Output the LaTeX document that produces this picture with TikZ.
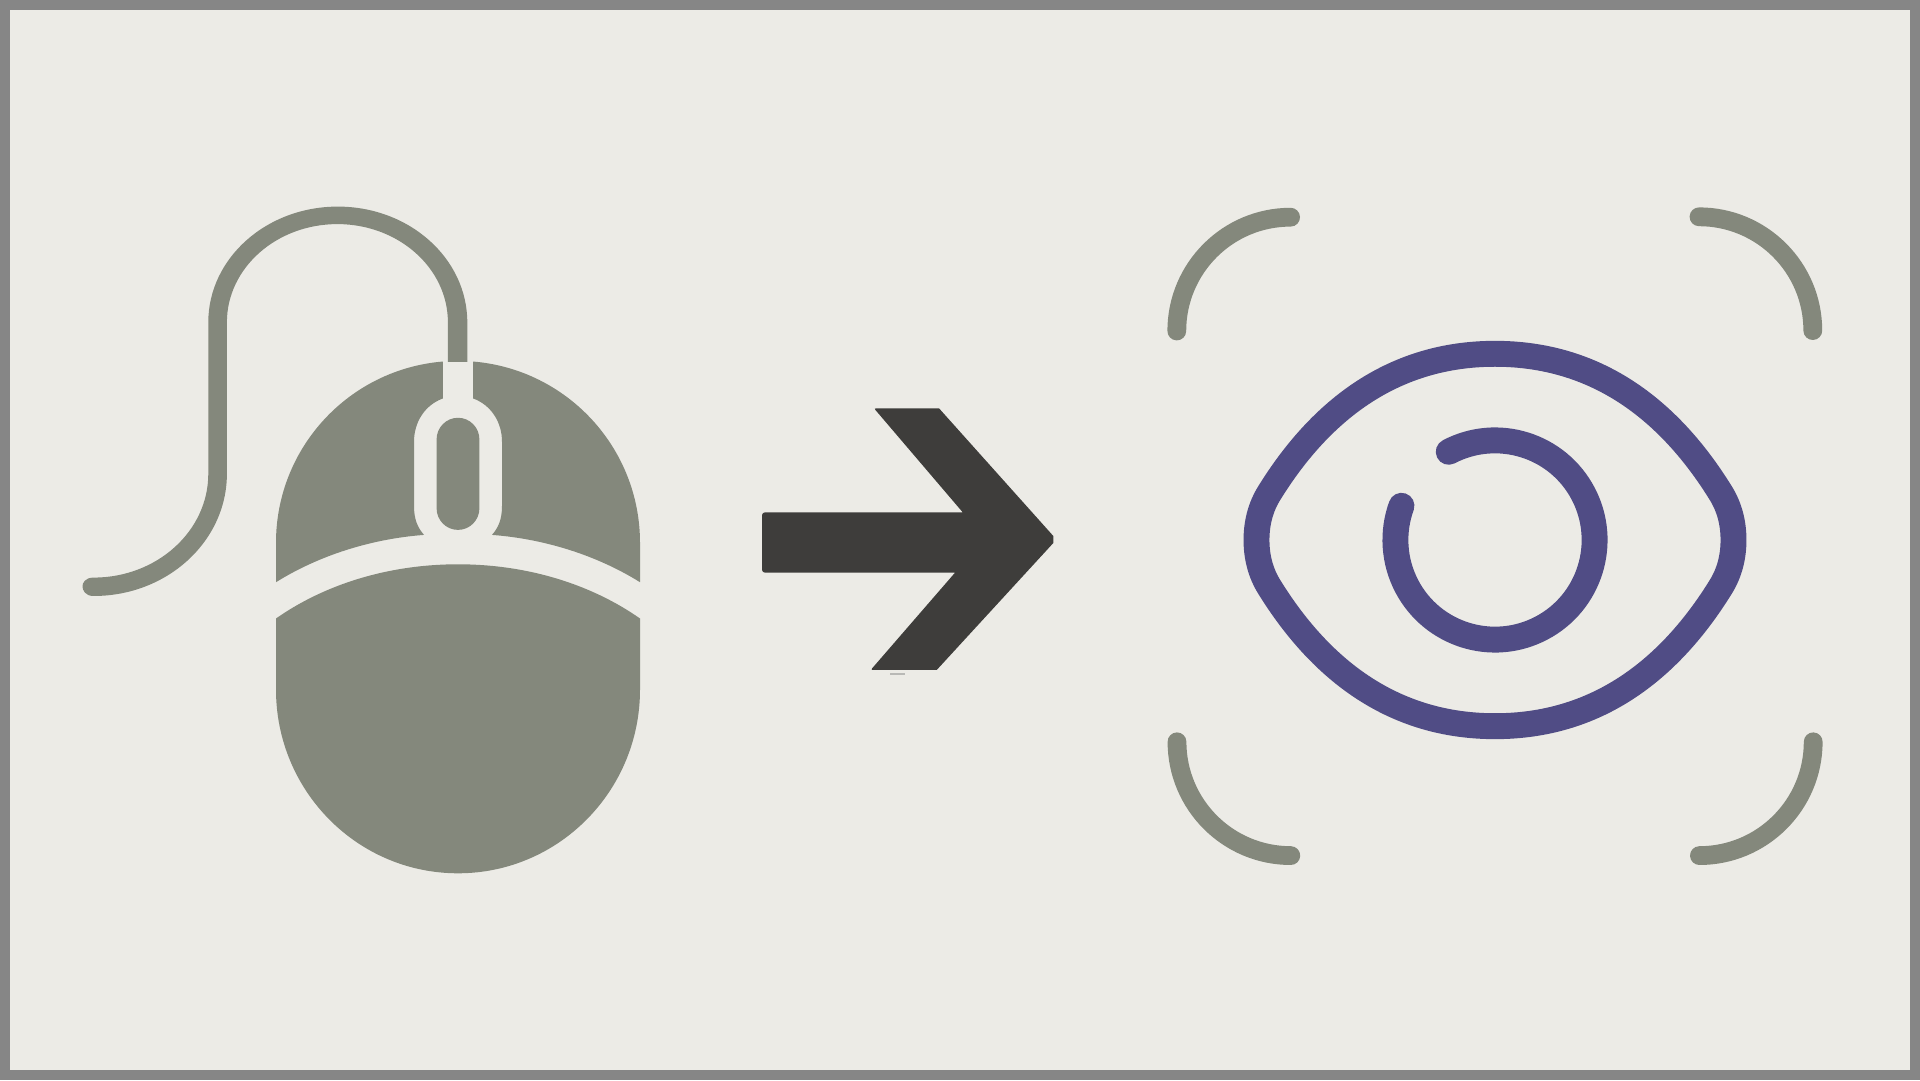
\documentclass[tikz,border=0pt]{standalone}
\usepackage{xcolor}
\definecolor{paperbg}{HTML}{ECEBE6}
\definecolor{edgegray}{HTML}{868686}
\definecolor{icongray}{HTML}{84887C}
\definecolor{eyepurple}{HTML}{504C85}
\definecolor{arrowdark}{HTML}{3E3D3B}
\tikzset{
    mousepart/.style={fill=icongray},
    eyeline/.style={draw=eyepurple, line width=25.9pt, line cap=round},
    framearc/.style={draw=icongray, line width=18.8pt, line cap=round},
}
\begin{document}
\begin{tikzpicture}[x=1pt,y=1pt]
\useasboundingbox (0,0) rectangle (1920,1080);
\fill[edgegray] (0,0) rectangle (1920,1080);
\fill[paperbg] (10,10) rectangle (1910,1070);

\fill[mousepart] (467.3,718.2) -- (467.3,757.7)
    arc[start angle=0,end angle=180,x radius=129.5,y radius=115.7]
    -- (208.3,606.2)
    arc[start angle=0,end angle=-90,x radius=114.7,y radius=103.8]
    .. controls (85,502.4) and (82.5,497) .. (82.5,493.7)
    .. controls (82.5,490) and (85,484) .. (93.6,484)
    arc[start angle=-90,end angle=0,x radius=133.3,y radius=122.2]
    -- (226.9,757.7)
    arc[start angle=180,end angle=0,x radius=110.5,y radius=98.2]
    -- (447.9,718.2) -- cycle;

\fill[mousepart] (276,497.8) -- (276,537.3)
    arc[start angle=180,end angle=94.8,x radius=182,y radius=181.8]
    -- (442.8,681.5)
    .. controls (425,675) and (414,658) .. (414,638.3)
    -- (414,574)
    .. controls (414,560) and (418,552) .. (424,545.1)
    .. controls (370,541) and (318,524) .. (276,497.8) -- cycle;
\fill[mousepart] (640,497.8) -- (640,537.3)
    arc[start angle=0,end angle=85.2,x radius=182,y radius=181.8]
    -- (473.2,681.5)
    .. controls (491,675) and (502,658) .. (502,638.3)
    -- (502,574)
    .. controls (502,560) and (498,552) .. (492,545.1)
    .. controls (546,541) and (598,524) .. (640,497.8) -- cycle;
\fill[mousepart] (436.6,571.7) -- (436.6,640.6)
    arc[start angle=180,end angle=0,x radius=21.4,y radius=21.6]
    -- (479.4,571.7)
    arc[start angle=0,end angle=-180,x radius=21.4,y radius=21.6] -- cycle;
\fill[mousepart] (276,461.5)
    .. controls (326,496.5) and (390,515.7) .. (458,515.7)
    .. controls (526,515.7) and (590,496.5) .. (640,461.5)
    -- (640,390.4)
    arc[start angle=0,end angle=-180,x radius=182,y radius=183.7] -- cycle;

\fill[arrowdark, rounded corners=3pt] (762,507.3) -- (762,567.7)
    [sharp corners] -- (962.7,567.7)
    [rounded corners=2pt] -- (874,671.7)
    [sharp corners] -- (939,671.7) -- (1053.3,544) -- (1053.3,537) -- (936.7,410)
    [rounded corners=2pt] -- (870.7,410)
    [sharp corners] -- (955,507.3)
    [rounded corners=3pt] -- cycle;
\fill[edgegray!50!paperbg] (890,405) rectangle (905,407);

\draw[framearc] (1176.8,749) arc[start angle=180,end angle=90,radius=113.8];
\draw[framearc] (1699,863.2) arc[start angle=90,end angle=0,radius=113.8];
\draw[framearc] (1177,338.2) arc[start angle=180,end angle=270,radius=113.8];
\draw[framearc] (1813.2,338.2) arc[start angle=0,end angle=-90,radius=113.8];

\draw[eyeline] (1256.5,540)
    .. controls (1256.5,557) and (1260.5,573) .. (1269.5,587.3)
    .. controls (1322,672) and (1395,726.2) .. (1495,726.2)
    .. controls (1595,726.2) and (1668,672) .. (1720.5,587.3)
    .. controls (1729.5,573) and (1733.5,557) .. (1733.5,540)
    .. controls (1733.5,523) and (1729.5,507) .. (1720.5,492.7)
    .. controls (1668,408) and (1595,353.8) .. (1495,353.8)
    .. controls (1395,353.8) and (1322,408) .. (1269.5,492.7)
    .. controls (1260.5,507) and (1256.5,523) .. (1256.5,540) -- cycle;
\draw[eyeline] (1495,540) ++(117.7:99.6)
    arc[start angle=117.7,end angle=-200.1,radius=99.6];
\end{tikzpicture}
\end{document}
